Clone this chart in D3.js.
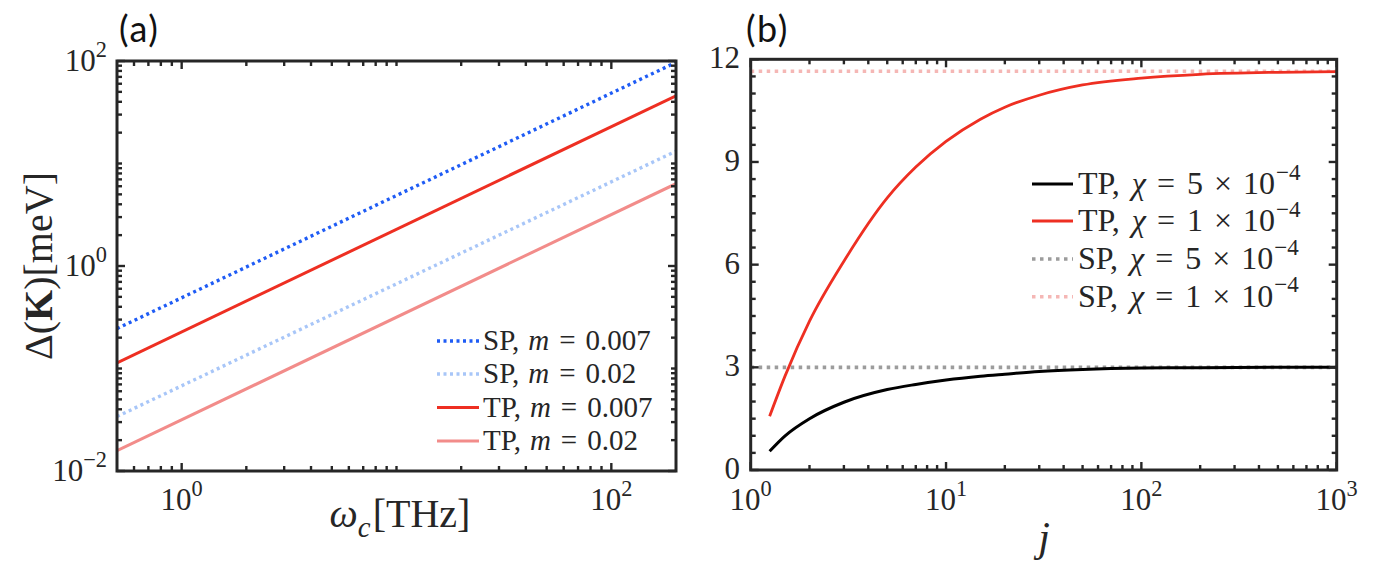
<!DOCTYPE html>
<html>
<head>
<meta charset="utf-8">
<script src="https://cdn.jsdelivr.net/npm/d3@7"></script>
<style>
  body { margin: 0; background: #fff; }
  svg { display: block; }
</style>
</head>
<body>
<div id="chart"></div>
<script>
// ─── DATA ─────────────────────────────────────────────────────────────────────
// panel (a): straight lines on log-log axes, values at the two ends of ω_c
const omegaEnds = [0.5, 200];
const spM007 = [0.245, 97];
const spM02 = [0.034, 13.2];
const tpM007 = [0.1135, 45.8];
const tpM02 = [0.0158, 6.35];

// panel (b): gap vs j
const jValues = [1.25, 1.5, 2, 3, 5, 7, 10, 15, 20, 30, 50, 100, 200, 500, 1000];
const tpChi5 = [0.55, 1.0, 1.5, 1.98, 2.35, 2.5, 2.63, 2.74, 2.8, 2.88, 2.94, 2.98, 2.99, 3.0, 3.0];
const tpChi1 = [1.57, 2.75, 4.35, 6.1, 7.95, 8.85, 9.6, 10.25, 10.6, 10.95, 11.25, 11.45, 11.56, 11.62, 11.64];
const jEnds = [1, 1000];
const spChi5 = [3.0, 3.0];
const spChi1 = [11.65, 11.65];

const yTicksB = [0, 3, 6, 9, 12];

// ─── SETUP ────────────────────────────────────────────────────────────────────
const W = 1381, H = 572;
const serif = "'Liberation Serif', 'Times New Roman', serif";
const ink = "#262626";

const svg = d3.select("#chart").append("svg")
  .attr("width", W).attr("height", H);
svg.append("rect").attr("width", W).attr("height", H).attr("fill", "#fff");

// math-ish text built from tspans: {t, it, bold, sup, sub, gap}
function mathText(parent, x, y, parts, size, anchor) {
  const t = parent.append("text")
    .attr("x", x).attr("y", y)
    .attr("font-family", serif)
    .attr("font-size", size)
    .attr("fill", ink)
    .attr("text-anchor", anchor || "start");
  let shift = 0;
  parts.forEach(p => {
    const s = p.sup ? -0.45 * size : p.sub ? 0.25 * size : 0;
    const ts = t.append("tspan").text(p.t)
      .attr("dy", s - shift)
      .attr("font-size", (p.sup || p.sub) ? size * 0.72 : size);
    if (p.gap) ts.attr("dx", p.gap);
    if (p.it) ts.attr("font-style", "italic");
    if (p.bold) ts.attr("font-weight", "bold");
    shift = s;
  });
  return t;
}

// box with inward ticks on all four sides
function drawFrame(g, x, y, xMajor, xMinor, yMajor, yMinor) {
  const [x0, x1] = x.range();
  const [y0, y1] = y.range(); // y0 bottom, y1 top
  const tg = g.append("g").attr("stroke", ink).attr("stroke-width", 2.4);
  const tick = (v, len, horiz) => {
    if (horiz) {
      const px = x(v);
      tg.append("line").attr("x1", px).attr("x2", px).attr("y1", y0).attr("y2", y0 - len);
      tg.append("line").attr("x1", px).attr("x2", px).attr("y1", y1).attr("y2", y1 + len);
    } else {
      const py = y(v);
      tg.append("line").attr("x1", x0).attr("x2", x0 + len).attr("y1", py).attr("y2", py);
      tg.append("line").attr("x1", x1).attr("x2", x1 - len).attr("y1", py).attr("y2", py);
    }
  };
  xMinor.forEach(v => tick(v, 5, true));
  xMajor.forEach(v => tick(v, 8, true));
  yMinor.forEach(v => tick(v, 5, false));
  yMajor.forEach(v => tick(v, 8, false));
  tg.append("rect")
    .attr("x", x0).attr("y", y1)
    .attr("width", x1 - x0).attr("height", y0 - y1)
    .attr("fill", "none").attr("stroke", ink).attr("stroke-width", 3);
}

function logMinors(lo, hi) {
  const out = [];
  for (let e = Math.floor(Math.log10(lo)); e <= Math.ceil(Math.log10(hi)); e++) {
    for (let m = 1; m <= 9; m++) {
      const v = m * Math.pow(10, e);
      if (v > lo * 1.0001 && v < hi * 0.9999) out.push(v);
    }
  }
  return out;
}

// ─── PANEL (a) ────────────────────────────────────────────────────────────────
const xA = d3.scaleLog().domain([0.5, 200]).range([117, 676]);
const yA = d3.scaleLog().domain([1e-2, 1e2]).range([471, 61]);
const gA = svg.append("g");

gA.append("clipPath").attr("id", "clipA").append("rect")
  .attr("x", 117).attr("y", 61).attr("width", 559).attr("height", 410);

const lineA = d3.line().x(d => xA(d[0])).y(d => yA(d[1]));
const seriesA = [
  { vals: tpM02, color: "#f28c8a", dash: null, w: 3, label: ["TP,", "0.02"] },
  { vals: spM02, color: "#a8c6f8", dash: "3,3.5", w: 3.4, label: ["SP,", "0.02"] },
  { vals: tpM007, color: "#ee2f22", dash: null, w: 3, label: ["TP,", "0.007"] },
  { vals: spM007, color: "#1f5cf5", dash: "3,3.5", w: 3.4, label: ["SP,", "0.007"] }
];
seriesA.forEach(s => {
  gA.append("path")
    .datum(omegaEnds.map((o, i) => [o, s.vals[i]]))
    .attr("clip-path", "url(#clipA)")
    .attr("d", lineA)
    .attr("fill", "none")
    .attr("stroke", s.color)
    .attr("stroke-width", s.w)
    .attr("stroke-dasharray", s.dash);
});

drawFrame(gA, xA, yA,
  [1, 100], logMinors(0.5, 200).filter(v => v !== 1 && v !== 100),
  [1e-2, 1, 1e2], logMinors(1e-2, 1e2).filter(v => v !== 1));

// tick labels
[[1, "0"], [100, "2"]].forEach(([v, e]) => {
  mathText(gA, xA(v), 510, [{ t: "10" }, { t: e, sup: true }], 31, "middle");
});
[[1e-2, "\u22122"], [1, "0"], [1e2, "2"]].forEach(([v, e]) => {
  mathText(gA, 107, yA(v) + 10, [{ t: "10" }, { t: e, sup: true }], 31, "end");
});

// axis labels
mathText(gA, 400, 527, [
  { t: "\u03c9", it: true }, { t: "c", it: true, sub: true }, { t: "[THz]", gap: 2 }
], 40, "middle");

mathText(gA.append("g").attr("transform", "translate(52,266) rotate(-90)"), 0, 0, [
  { t: "\u0394(" }, { t: "K", bold: true }, { t: ")[meV]" }
], 40, "middle");

// legend
const legA = [seriesA[3], seriesA[1], seriesA[2], seriesA[0]];
const legAy = [341, 374, 407.5, 441];
legA.forEach((s, i) => {
  gA.append("line")
    .attr("x1", 437).attr("x2", 479)
    .attr("y1", legAy[i]).attr("y2", legAy[i])
    .attr("stroke", s.color).attr("stroke-width", s.w)
    .attr("stroke-dasharray", s.dash);
  mathText(gA, 483, legAy[i] + 9, [
    { t: s.label[0] }, { t: "m", it: true, gap: 9 },
    { t: "=", gap: 10 }, { t: s.label[1], gap: 10 }
  ], 29);
});

// panel tag
svg.append("text").attr("x", 119).attr("y", 42)
  .attr("font-family", "Lato, 'Open Sans', sans-serif")
  .attr("font-size", 36).attr("letter-spacing", 1.5).attr("fill", "#111")
  .text("(a)");

// ─── PANEL (b) ────────────────────────────────────────────────────────────────
const xB = d3.scaleLog().domain([1, 1000]).range([750.7, 1336.7]);
const yB = d3.scaleLinear().domain([0, 12]).range([470, 59.3]);
const gB = svg.append("g");

gB.append("clipPath").attr("id", "clipB").append("rect")
  .attr("x", 750.7).attr("y", 59.3).attr("width", 586).attr("height", 410.7);

const lineB = d3.line().x(d => xB(d[0])).y(d => yB(d[1])).curve(d3.curveMonotoneX);
const seriesB = [
  { xs: jEnds, vals: spChi1, color: "#f5b7b5", dash: "3.5,4.5", w: 3.6, label: "1" },
  { xs: jEnds, vals: spChi5, color: "#9c9c9c", dash: "3.5,4.5", w: 3.6, label: "5" },
  { xs: jValues, vals: tpChi5, color: "#000", dash: null, w: 3, label: "5" },
  { xs: jValues, vals: tpChi1, color: "#ee2f22", dash: null, w: 2.8, label: "1" }
];
seriesB.forEach(s => {
  gB.append("path")
    .datum(s.xs.map((j, i) => [j, s.vals[i]]))
    .attr("clip-path", "url(#clipB)")
    .attr("d", lineB)
    .attr("fill", "none")
    .attr("stroke", s.color)
    .attr("stroke-width", s.w)
    .attr("stroke-dasharray", s.dash);
});

drawFrame(gB, xB, yB,
  [1, 10, 100, 1000], logMinors(1, 1000).filter(v => ![1, 10, 100, 1000].includes(v)),
  yTicksB, d3.range(0.5, 12, 0.5).filter(v => v % 3 !== 0));

[1, 10, 100, 1000].forEach((v, i) => {
  mathText(gB, xB(v), 510, [{ t: "10" }, { t: String(i), sup: true }], 31, "middle");
});
yTicksB.forEach(v => {
  mathText(gB, 740, yB(v) + 9, [{ t: String(v) }], 31, "end");
});

mathText(gB, 1044, 551, [{ t: "j", it: true }], 42, "middle");

// legend
const legB = [seriesB[2], seriesB[3], seriesB[1], seriesB[0]];
const legBy = [184, 221, 259, 296.7];
legB.forEach((s, i) => {
  gB.append("line")
    .attr("x1", 1032).attr("x2", 1073)
    .attr("y1", legBy[i]).attr("y2", legBy[i])
    .attr("stroke", s.color).attr("stroke-width", s.w)
    .attr("stroke-dasharray", s.dash);
  mathText(gB, 1078, legBy[i] + 10, [
    { t: i < 2 ? "TP," : "SP," }, { t: "\u03c7", it: true, gap: 12 },
    { t: "=", gap: 11 }, { t: s.label, gap: 12 }, { t: "\u00d7", gap: 11 },
    { t: "10", gap: 11 }, { t: "\u22124", sup: true, gap: 1 }
  ], 32);
});

svg.append("text").attr("x", 746).attr("y", 42)
  .attr("font-family", "Lato, 'Open Sans', sans-serif")
  .attr("font-size", 36).attr("letter-spacing", 1.5).attr("fill", "#111")
  .text("(b)");
</script>
</body>
</html>
